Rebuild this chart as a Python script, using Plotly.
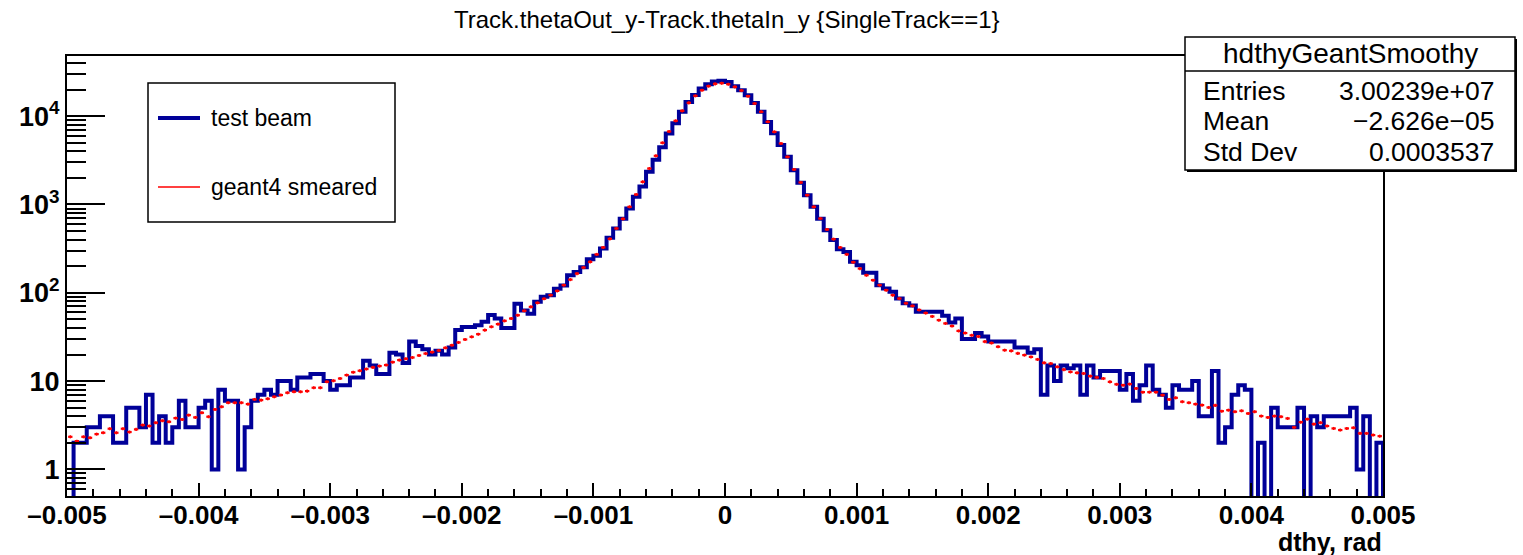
import numpy as np
import plotly.graph_objects as go

# ---------------- data ----------------
x_min, x_max, n_bins = -0.005, 0.005, 200

test_beam = [
    0, 2, 2, 3, 3, 4, 4, 2, 2, 5, 5, 3, 7, 2, 4, 2, 3, 6, 3, 3,
    5, 6, 1, 8, 6, 6, 1, 3, 6, 7, 8, 7, 10, 10, 8, 11, 11, 12, 12, 10,
    8, 9, 9, 11, 11, 17, 15, 12, 12, 21, 20, 16, 28, 25, 23, 20, 22, 20, 24, 38,
    41, 41, 43, 47, 56, 51, 40, 40, 75, 63, 58, 79, 90, 94, 111, 121, 158, 172, 195, 240,
    262, 318, 420, 535, 690, 900, 1220, 1600, 2350, 3200, 4450, 6350, 8300, 11200, 14500, 17300, 20500, 23000, 24700, 25100,
    24400, 21800, 19700, 17200, 14100, 11200, 8600, 6400, 4700, 3460, 2440, 1760, 1270, 940, 690, 512, 396, 312, 290, 224,
    205, 169, 169, 122, 112, 103, 86, 76, 72, 61, 61, 61, 61, 55, 46, 51, 30, 30, 35, 32,
    28, 28, 28, 28, 24, 24, 21, 23, 7, 15, 10, 15, 14, 15, 7, 15, 11, 13, 13, 13,
    8, 12, 6, 9, 15, 8, 7, 5, 9, 8, 8, 10, 4, 4, 13, 2, 3, 7, 9, 8,
    0, 2, 0, 5, 3, 3, 3, 5, 0, 4, 3, 4, 4, 4, 4, 5, 1, 4, 0, 2,
]

geant4_smeared = [
    2.34, 2.09, 2.34, 2.28, 2.51, 2.60, 2.89, 2.60, 2.89, 2.65,
    2.84, 3.18, 3.10, 3.38, 3.56, 3.46, 3.81, 3.68, 4.12, 3.88,
    4.38, 3.95, 4.78, 5.12, 5.69, 5.69, 5.69, 5.49, 6.20, 6.09,
    6.31, 6.65, 6.95, 7.38, 7.57, 7.57, 7.71, 8.41, 8.41, 9.83,
    10.1, 10.7, 11.7, 12.6, 13.1, 13.7, 14.3, 14.8, 15.2, 16.4,
    17.3, 17.9, 18.5, 19.5, 20.5, 21.3, 22.2, 23.8, 25.5, 27.4,
    29.6, 31.7, 34.0, 37.8, 41.2, 44.2, 48.1, 51.1, 55.7, 62.5,
    69.3, 76.9, 85.5, 94, 105, 122, 141, 165, 193, 224,
    272, 326, 408, 535, 687, 940, 1297, 1803, 2553, 3554,
    4990, 6700, 8850, 11480, 14150, 16980, 19680, 21870, 23230, 23600,
    23000, 21470, 19500, 16830, 13900, 11200, 8630, 6640, 4900, 3460,
    2488, 1775, 1274, 940, 693, 521, 405, 326, 272, 222,
    188, 158, 139, 122, 107, 94, 86, 76, 71, 64,
    59, 54, 49, 45, 42, 37, 35, 33, 32, 28,
    27, 24.5, 22.4, 22, 20.6, 19.7, 18.8, 17.6, 16.1, 15.8,
    14.5, 13.5, 12.7, 12.4, 12.2, 11.4, 11.0, 10.7, 9.8, 9.2,
    9.0, 9.25, 8.26, 7.50, 7.50, 7.50, 6.94, 6.20, 6.47, 5.84,
    5.69, 5.49, 5.35, 5.03, 5.31, 4.57, 4.69, 4.50, 4.61, 4.30,
    4.50, 4.02, 3.88, 4.02, 3.95, 3.78, 2.99, 3.43, 3.71, 3.26,
    3.38, 3.10, 2.91, 2.79, 2.91, 2.96, 2.56, 2.56, 2.45, 2.38,
]

x_tick_vals = [-0.005, -0.004, -0.003, -0.002, -0.001, 0, 0.001, 0.002, 0.003, 0.004, 0.005]
x_tick_text = ["\u20130.005", "\u20130.004", "\u20130.003", "\u20130.002", "\u20130.001", "0",
               "0.001", "0.002", "0.003", "0.004", "0.005"]
y_tick_vals = [1, 10, 100, 1000, 10000]
y_tick_text = ["1", "10", "10<sup>2</sup>", "10<sup>3</sup>", "10<sup>4</sup>"]

title_text = "Track.thetaOut_y-Track.thetaIn_y {SingleTrack==1}"
x_title = "dthy, rad"
legend_labels = ["test beam", "geant4 smeared"]
stats_name = "hdthyGeantSmoothy"
stats_labels = ["Entries", "Mean", "Std Dev"]
stats_values = ["3.00239e+07", "\u22122.626e\u221205", "0.0003537"]

assert len(test_beam) == n_bins and len(geant4_smeared) == n_bins

# ---------------- geometry ----------------
W, H = 1523, 555
L, R, T, B = 67, 1383, 56, 496
FONT = "Liberation Sans"
BLUE = "#000099"
RED = "#ff0000"


def px(xp):
    return (xp - L) / (R - L)


def py(yp):
    return (B - yp) / (B - T)


edges = np.linspace(x_min, x_max, n_bins + 1)
centers = 0.5 * (edges[:-1] + edges[1:])
bin_w = edges[1] - edges[0]

tb = np.array(test_beam, dtype=float)
floor = 0.1  # zero bins drawn down to (below) the axis bottom
tb_plot = np.where(tb > 0, tb, floor)
xs = np.concatenate([[edges[0]], edges[:-1], [edges[-1], edges[-1]]])
ys = np.concatenate([[floor], tb_plot, [tb_plot[-1], floor]])

fig = go.Figure()
fig.add_trace(go.Scatter(
    x=xs, y=ys, mode="lines", line=dict(color=BLUE, width=4, shape="hv"),
    name=legend_labels[0], showlegend=False, hoverinfo="skip"))
fig.add_trace(go.Scatter(
    x=centers, y=geant4_smeared, mode="markers",
    marker=dict(color="rgba(0,0,0,0)", size=1),
    error_x=dict(type="constant", value=bin_w * 0.33, thickness=2.2, width=0, color=RED),
    error_y=dict(type="percent", value=4, thickness=1.5, width=0, color=RED),
    name=legend_labels[1], showlegend=False))

shapes = []
annotations = []

# legend box
shapes.append(dict(type="rect", xref="paper", yref="paper",
                   x0=px(148), x1=px(395), y0=py(222), y1=py(83),
                   line=dict(color="black", width=1.5), fillcolor="white", layer="above"))
shapes.append(dict(type="line", xref="paper", yref="paper",
                   x0=px(158), x1=px(200), y0=py(118), y1=py(118),
                   line=dict(color=BLUE, width=4), layer="above"))
shapes.append(dict(type="line", xref="paper", yref="paper",
                   x0=px(158), x1=px(200), y0=py(187), y1=py(187),
                   line=dict(color=RED, width=1.5), layer="above"))
for lab, yy in zip(legend_labels, [118, 187]):
    annotations.append(dict(xref="paper", yref="paper", x=px(209), y=py(yy), text=lab,
                            showarrow=False, xanchor="left", yanchor="middle",
                            font=dict(family=FONT, size=23, color="black")))

# stats box (with shadow)
sx0, sx1, sy0, sy1 = 1185, 1515, 37, 170
shapes.append(dict(type="rect", xref="paper", yref="paper",
                   x0=px(sx0 + 2), x1=px(sx1 + 2), y0=py(sy1 + 2), y1=py(sy0 + 2),
                   line=dict(color="black", width=0), fillcolor="black", layer="above"))
shapes.append(dict(type="rect", xref="paper", yref="paper",
                   x0=px(sx0), x1=px(sx1), y0=py(sy1), y1=py(sy0),
                   line=dict(color="black", width=1.5), fillcolor="white", layer="above"))
shapes.append(dict(type="line", xref="paper", yref="paper",
                   x0=px(sx0), x1=px(sx1), y0=py(71), y1=py(71),
                   line=dict(color="black", width=1.5), layer="above"))
annotations.append(dict(xref="paper", yref="paper", x=px((sx0 + sx1) / 2), y=py(54),
                        text=stats_name, showarrow=False, xanchor="center", yanchor="middle",
                        font=dict(family=FONT, size=28, color="black")))
for lab, val, yy in zip(stats_labels, stats_values, [91, 121, 152]):
    annotations.append(dict(xref="paper", yref="paper", x=px(1201), y=py(yy), text=lab,
                            showarrow=False, xanchor="left", yanchor="middle",
                            font=dict(family=FONT, size=26.5, color="black")))
    annotations.append(dict(xref="paper", yref="paper", x=px(1496), y=py(yy), text=val,
                            showarrow=False, xanchor="right", yanchor="middle",
                            font=dict(family=FONT, size=26.5, color="black")))

# title and x-axis label
annotations.append(dict(xref="paper", yref="paper", x=px(727), y=py(19), text=title_text,
                        showarrow=False, xanchor="center", yanchor="middle",
                        font=dict(family=FONT, size=24, color="black")))
annotations.append(dict(xref="paper", yref="paper", x=px(1384), y=py(542), text=x_title,
                        showarrow=False, xanchor="right", yanchor="middle",
                        font=dict(family=FONT, size=25, color="black", weight="bold")))

fig.update_layout(
    width=W, height=H,
    margin=dict(l=L, r=W - R, t=T, b=H - B, pad=0),
    paper_bgcolor="white", plot_bgcolor="white",
    showlegend=False,
    shapes=shapes, annotations=annotations,
    xaxis=dict(
        range=[x_min, x_max], showgrid=False, zeroline=False,
        showline=True, linecolor="black", linewidth=2, mirror=True,
        ticks="inside", ticklen=13, tickwidth=2, tickcolor="black",
        tickvals=x_tick_vals, ticktext=x_tick_text, ticklabelstandoff=-5,
        tickfont=dict(family=FONT, size=26, color="black", weight="bold"),
        minor=dict(ticks="inside", ticklen=7, tickwidth=2, tickcolor="black",
                   dtick=0.0002, tick0=0, showgrid=False),
    ),
    yaxis=dict(
        type="log", range=[np.log10(0.5), 4.681], showgrid=False, zeroline=False,
        showline=True, linecolor="black", linewidth=2, mirror=True,
        ticks="inside", ticklen=38, tickwidth=2, tickcolor="black",
        tickvals=y_tick_vals, ticktext=y_tick_text,
        tickfont=dict(family=FONT, size=27, color="black", weight="bold"),
        minor=dict(ticks="inside", ticklen=19, tickwidth=2, tickcolor="black",
                   dtick="D1", showgrid=False),
    ),
)

fig.write_html("out.html")
